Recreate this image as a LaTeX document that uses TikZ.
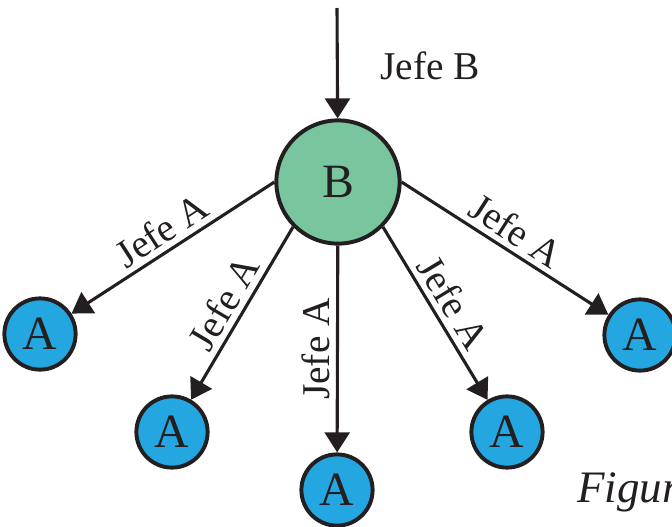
\documentclass[tikz,border=0pt]{standalone}
\usepackage{fontspec}
\setmainfont{Liberation Serif}
\usetikzlibrary{arrows.meta}
\definecolor{ink}{RGB}{35,31,32}
\definecolor{hubgreen}{RGB}{121,198,158}
\definecolor{leafblue}{RGB}{36,167,224}

\begin{document}
\begin{tikzpicture}[x=0.025cm,y=-0.025cm,color=ink,line width=2.2pt,
    >={Triangle[length=0.5cm,width=0.62cm]},
    hub/.style={circle,draw,line width=2.8pt,fill=hubgreen,minimum size=3.08cm,inner sep=0pt,font=\fontsize{34}{34}\selectfont},
    leaf/.style={circle,draw,line width=2.8pt,fill=leafblue,minimum size=1.78cm,inner sep=0pt,font=\fontsize{34}{34}\selectfont},
    lbl/.style={font=\fontsize{28}{28}\selectfont,inner sep=4pt}]
  \useasboundingbox (0,0) rectangle (672,527);
  \clip (0,0) rectangle (672,527);

  \node[hub] (B) at (338,182) {B};
  \node[leaf] (A1) at (40,334) {A};
  \node[leaf] (A2) at (172,432) {A};
  \node[leaf] (A3) at (337,490) {A};
  \node[leaf] (A4) at (507,432) {A};
  \node[leaf] (A5) at (640,335) {A};
  \coordinate (top) at (337,8);

  % entrada
  \draw[->] (top) -- (B);
  \node[lbl] (jb) at (430,66) {Jefe B};

  % salidas
  \draw[->] (B.180) -- node[lbl,sloped,above] {Jefe A} (A1);
  \draw[->] (B.225) -- node[lbl,sloped,above] {Jefe A} (A2);
  \draw[->] (B) -- node[lbl,rotate=90,above] {Jefe A} (A3);
  \draw[->] (B.315) -- node[lbl,sloped,above] {Jefe A} (A4);
  \draw[->] (B.0) -- node[lbl,sloped,above] {Jefe A} (A5);

  \node[anchor=base west,font=\fontsize{32}{32}\selectfont\itshape] (fig) at (571,502) {Figura};
\end{tikzpicture}
\end{document}
